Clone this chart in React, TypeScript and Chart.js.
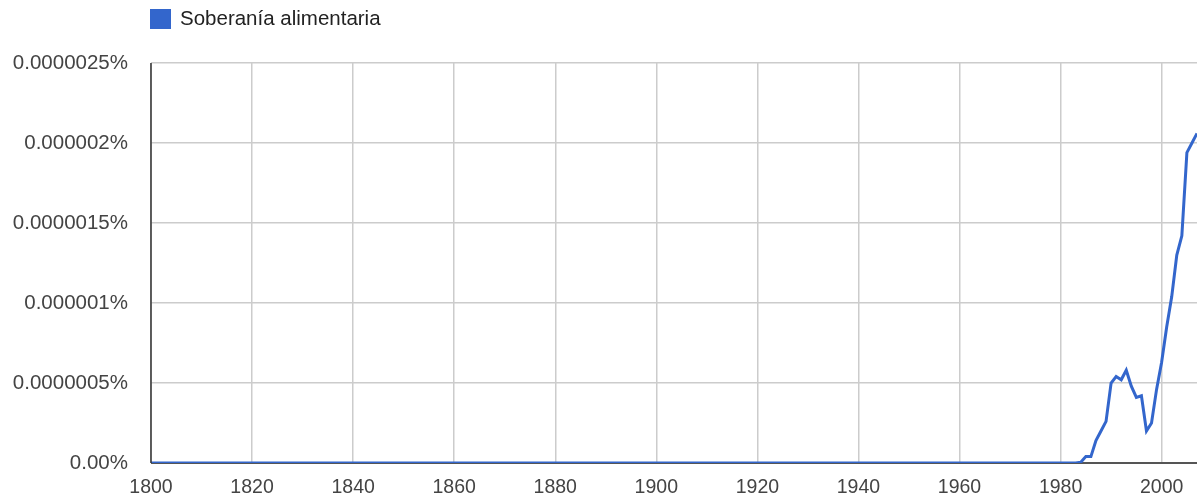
import React, { useEffect, useRef } from "react";
import { Chart, registerables } from "chart.js";

Chart.register(...registerables);

const seriesLabel = "Soberanía alimentaria";
const years = [1800, 1983, 1984, 1985, 1986, 1987, 1988, 1989, 1990, 1991, 1992, 1993, 1994, 1995, 1996, 1997, 1998, 1999, 2000, 2001, 2002, 2003, 2004, 2005, 2006, 2007];
const values = [0, 0, 0.005, 0.04, 0.04, 0.14, 0.2, 0.26, 0.5, 0.54, 0.52, 0.58, 0.48, 0.41, 0.42, 0.2, 0.25, 0.46, 0.63, 0.85, 1.04, 1.3, 1.42, 1.94, 2.0, 2.06]; // in units of 1e-6 %
const yTickValues = [0, 0.5, 1, 1.5, 2, 2.5];
const yTickLabels = ["0.00%", "0.0000005%", "0.000001%", "0.0000015%", "0.000002%", "0.0000025%"];
const xTickLabels = ["1800", "1820", "1840", "1860", "1880", "1900", "1920", "1940", "1960", "1980", "2000"];

const FONT = "'Liberation Sans', Arial, sans-serif";
const BLUE = "#3366cc";

const legendPlugin = {
  id: "customLegend",
  afterDraw(chart: any) {
    const ctx = chart.ctx;
    const left = chart.chartArea.left;
    ctx.save();
    ctx.fillStyle = BLUE;
    ctx.fillRect(left - 1, 9, 21, 20);
    ctx.fillStyle = "#222";
    ctx.font = `20.5px ${FONT}`;
    ctx.textBaseline = "middle";
    ctx.textAlign = "left";
    ctx.fillText(chart.data.datasets[0].label, left + 29, 19);
    ctx.restore();
  },
};

const axisLinesPlugin = {
  id: "axisLines",
  afterDatasetsDraw(chart: any) {
    const { ctx, chartArea } = chart;
    ctx.save();
    ctx.strokeStyle = "#333";
    ctx.lineWidth = 1.5;
    ctx.beginPath();
    ctx.moveTo(chartArea.left, chartArea.top);
    ctx.lineTo(chartArea.left, chartArea.bottom);
    ctx.stroke();
    ctx.restore();
  },
  beforeDatasetsDraw(chart: any) {
    const { ctx, chartArea } = chart;
    ctx.save();
    ctx.strokeStyle = "#555";
    ctx.lineWidth = 2;
    ctx.beginPath();
    ctx.moveTo(chartArea.left, chartArea.bottom);
    ctx.lineTo(chartArea.right, chartArea.bottom);
    ctx.stroke();
    ctx.restore();
  },
};

export default function App() {
  const ref = useRef<HTMLCanvasElement>(null);
  useEffect(() => {
    document.body.style.margin = "0";
    const chart = new Chart(ref.current!, {
      type: "line",
      data: {
        datasets: [
          {
            label: seriesLabel,
            data: years.map((y, i) => ({ x: y, y: values[i] })),
            borderColor: BLUE,
            borderWidth: 3,
            pointRadius: 0,
            tension: 0,
            fill: false,
          },
        ],
      },
      options: {
        animation: false,
        responsive: false,
        maintainAspectRatio: false,
        layout: { padding: { top: 63, left: 0, right: 0, bottom: 0 } },
        plugins: { legend: { display: false }, tooltip: { enabled: false } },
        scales: {
          x: {
            type: "linear",
            min: 1800,
            max: 2007,
            afterBuildTicks: (scale: any) => {
              scale.ticks = xTickLabels.map((v) => ({ value: Number(v) }));
            },
            afterFit: (scale: any) => {
              scale.height = 36;
            },
            grid: { color: "#cccccc", lineWidth: 1.5, drawTicks: false },
            border: { display: false },
            ticks: {
              color: "#444",
              font: { family: FONT, size: 19.5 },
              padding: 13,
              maxRotation: 0,
              autoSkip: false,
              callback: (v: any) => String(v),
            },
          },
          y: {
            type: "linear",
            min: 0,
            max: 2.5,
            afterBuildTicks: (scale: any) => {
              scale.ticks = yTickValues.map((v) => ({ value: v }));
            },
            afterFit: (scale: any) => {
              scale.width = 151;
            },
            grid: { color: "#cccccc", lineWidth: 1.5, drawTicks: false },
            border: { display: false },
            ticks: {
              color: "#444",
              font: { family: FONT, size: 20.5 },
              padding: 23,
              callback: (v: any) => {
                const i = yTickValues.indexOf(Number(v));
                return i >= 0 ? yTickLabels[i] : "";
              },
            },
          },
        },
      },
      plugins: [legendPlugin, axisLinesPlugin],
    });
    return () => chart.destroy();
  }, []);
  return (
    <div style={{ position: "fixed", left: 0, top: 0, width: 1197, height: 499, background: "#fff" }}>
      <canvas ref={ref} width={1197} height={499} style={{ width: 1197, height: 499 }} />
    </div>
  );
}
